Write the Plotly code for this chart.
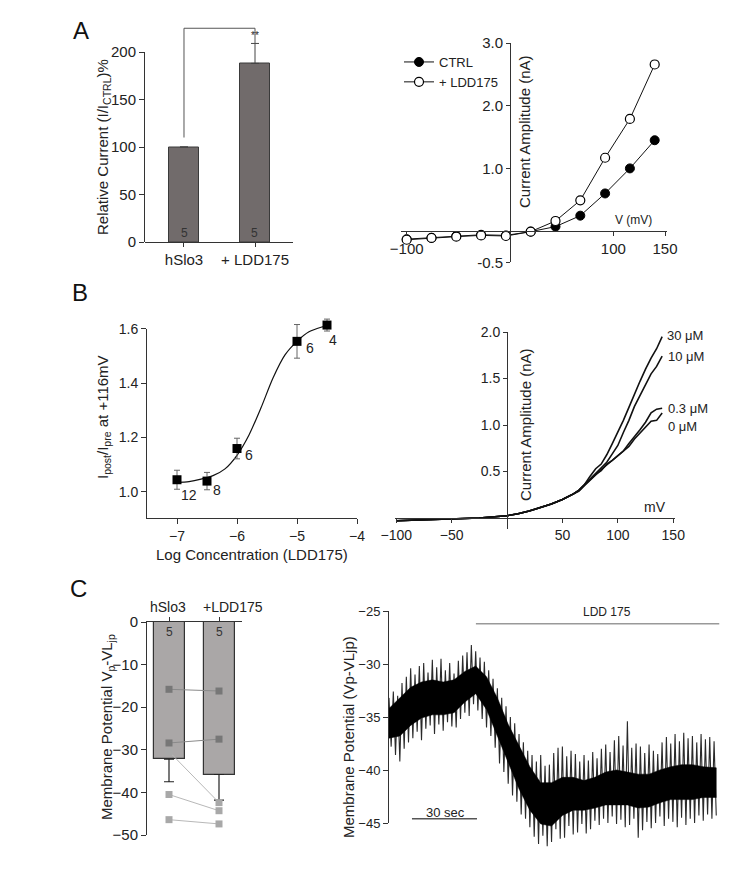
import plotly.graph_objects as go

W, H = 748, 874
FONT = "Liberation Sans, Arial, sans-serif"

# ---------------- Panel A (left): relative current bars ----------------
a_groups = ["hSlo3", "+ LDD175"]
a_rel_current = [100, 188]
a_rel_err = [None, 21]
a_n = ["5", "5"]

# ---------------- Panel A (right): I-V curves ----------------
iv_voltage = [-100, -76, -52, -28, -4, 20, 44, 68, 92, 116, 140]
iv_ctrl = [-0.13, -0.11, -0.08, -0.06, -0.07, -0.01, 0.07, 0.245, 0.60, 1.00, 1.45]
iv_ldd = [-0.14, -0.11, -0.09, -0.07, -0.08, -0.01, 0.16, 0.49, 1.17, 1.79, 2.66]

# ---------------- Panel B (left): dose response ----------------
dr_logc = [-7, -6.5, -6, -5, -4.5]
dr_ratio = [1.045, 1.04, 1.16, 1.555, 1.615]
dr_err = [0.035, 0.032, 0.038, 0.062, 0.022]
dr_n = ["12", "8", "6", "6", "4"]
fit_logc = [-7.0, -6.8, -6.6, -6.4, -6.2, -6.0, -5.8, -5.6, -5.4, -5.2, -5.0, -4.8, -4.6, -4.5]
fit_ratio = [1.035, 1.038, 1.047, 1.06, 1.085, 1.135, 1.21, 1.31, 1.42, 1.505, 1.555, 1.59, 1.607, 1.612]

# ---------------- Panel B (right): ramp currents ----------------
ramp_mv = [-100, -75, -50, -25, 0, 10, 20, 30, 40, 50, 60, 65, 70, 75, 80, 85, 90, 95, 100,
           105, 110, 115, 120, 125, 130, 135, 140]
ramp_0uM = [-0.03, -0.02, -0.01, 0.0, 0.025, 0.045, 0.075, 0.11, 0.15, 0.20, 0.26, 0.29,
            0.35, 0.41, 0.46, 0.52, 0.57, 0.62, 0.66, 0.71, 0.77, 0.85, 0.91, 0.97, 1.04, 1.05, 1.13]
ramp_03uM = [-0.03, -0.02, -0.01, 0.0, 0.025, 0.045, 0.075, 0.11, 0.15, 0.20, 0.26, 0.30,
             0.36, 0.42, 0.47, 0.51, 0.58, 0.62, 0.67, 0.72, 0.80, 0.87, 0.95, 1.03, 1.13, 1.17, 1.18]
ramp_10uM = [-0.03, -0.02, -0.01, 0.0, 0.025, 0.045, 0.075, 0.11, 0.15, 0.20, 0.26, 0.30,
             0.36, 0.43, 0.49, 0.55, 0.60, 0.69, 0.78, 0.92, 1.05, 1.20, 1.32, 1.44, 1.55, 1.63, 1.74]
ramp_30uM = [-0.03, -0.02, -0.01, 0.0, 0.025, 0.045, 0.075, 0.11, 0.15, 0.20, 0.26, 0.30,
             0.36, 0.45, 0.53, 0.58, 0.68, 0.80, 0.92, 1.05, 1.19, 1.34, 1.47, 1.60, 1.72, 1.82, 1.95]
ramp_labels = ["30 \u03bcM", "10 \u03bcM", "0.3 \u03bcM", "0 \u03bcM"]

# ---------------- Panel C (left): membrane potential bars ----------------
c_groups = ["hSlo3", "+LDD175"]
c_mean = [-32.2, -35.8]
c_err = [5.3, 6.0]
c_n = ["5", "5"]
c_cell_ctrl = [-15.8, -28.4, -30.4, -40.5, -46.4]
c_cell_ldd = [-16.2, -27.5, -42.4, -44.3, -47.4]

# ---------------- Panel C (right): membrane potential recording ----------------
# min/max per 2 s bin (spiky extremes)
mp_top = [-33.2, -32.6, -33.0, -31.8, -31.2, -30.4, -31.0, -30.2, -29.9, -30.8,
          -29.6, -30.3, -29.5, -30.6, -29.9, -30.9, -29.7, -29.2, -28.9, -28.2,
          -28.8, -29.4, -29.8, -30.6, -31.4, -32.3, -33.2, -34.0, -35.0, -35.6,
          -36.6, -37.4, -38.2, -38.6, -39.2, -38.6, -39.6, -39.5, -38.4, -37.9,
          -37.8, -38.7, -38.2, -38.5, -39.2, -38.6, -39.1, -38.3, -38.9, -38.0,
          -37.6, -38.3, -37.2, -36.8, -37.7, -35.4, -37.9, -37.5, -37.8, -38.4,
          -37.6, -38.2, -38.5, -37.4, -36.9, -37.5, -36.6, -37.3, -36.5, -37.0,
          -36.8, -37.4, -36.6, -37.1, -36.9, -37.3]
mp_bot = [-37.8, -38.6, -39.2, -38.0, -37.4, -37.0, -36.4, -37.2, -36.1, -35.8,
          -36.6, -35.7, -36.3, -35.5, -35.9, -36.0, -35.2, -34.6, -34.9, -33.8,
          -34.4, -35.2, -36.0, -36.8, -37.9, -39.4, -40.2, -41.3, -42.4, -43.0,
          -44.2, -44.6, -45.4, -46.3, -47.0, -46.2, -47.2, -46.8, -45.6, -46.5,
          -46.4, -45.3, -46.1, -45.9, -45.1, -46.0, -45.6, -44.8, -45.2, -44.6,
          -45.0, -44.4, -45.1, -44.7, -45.4, -45.2, -44.6, -46.4, -45.7, -44.9,
          -45.5, -45.0, -44.4, -45.3, -44.6, -44.9, -45.4, -44.5, -45.2, -44.6,
          -45.0, -44.3, -44.8, -44.2, -44.6, -44.3]
mp_bin_s = 2
# dense core of the trace, per 5 s
core_t = [0, 5, 10, 15, 20, 25, 30, 35, 40, 45, 50, 55, 60, 65, 70, 75, 80, 85, 90, 95,
          100, 105, 110, 115, 120, 125, 130, 135, 140, 145, 151]
core_top = [-34.2, -33.2, -32.2, -31.7, -31.5, -31.7, -31.5, -30.7, -30.2, -31.2, -33.2,
            -35.7, -37.7, -39.7, -41.2, -41.2, -40.7, -40.7, -41.0, -40.7, -40.2, -40.0,
            -40.2, -40.4, -40.4, -40.0, -39.7, -39.5, -39.5, -39.7, -39.8]
core_bot = [-37.0, -36.8, -35.8, -35.1, -34.8, -34.8, -34.6, -33.6, -32.8, -34.3, -36.8,
            -39.3, -41.8, -43.8, -45.1, -45.3, -44.3, -43.8, -43.8, -43.6, -43.3, -43.3,
            -43.3, -43.6, -43.5, -43.1, -42.8, -42.8, -42.8, -42.6, -42.6]
drug_on_s = 40.1
drug_label = "LDD 175"
scalebar_s = 30


def px(x):
    return x / W


def py(y):
    return 1 - y / H


def dx(l, r):
    return [px(l), px(r)]


def dy(top, bottom):
    return [py(bottom), py(top)]


def AX(size=14):
    return dict(showline=True, linecolor="#333", linewidth=1, ticks="outside", ticklen=5,
                tickcolor="#333", tickwidth=1, showgrid=False, zeroline=False, automargin=False,
                tickangle=0, tickfont=dict(size=size, color="#222", family=FONT))


def HID():
    return dict(visible=False, automargin=False, showgrid=False, zeroline=False)


def ann(text, x, y, size=13, angle=0, xanchor="center", yanchor="middle", color="#222"):
    return dict(text=text, x=px(x), y=py(y), xref="paper", yref="paper", showarrow=False,
                font=dict(size=size, color=color, family=FONT), textangle=angle,
                xanchor=xanchor, yanchor=yanchor)


fig = go.Figure()

# ---- A left
fig.add_trace(go.Bar(x=[1, 2], y=a_rel_current, width=0.42, xaxis="x", yaxis="y",
                     marker=dict(color="#716b6b", line=dict(color="#3a3a3a", width=1)),
                     error_y=dict(type="data", array=a_rel_err, arrayminus=[None, 0], symmetric=False,
                                  color="#444", thickness=1, width=4),
                     showlegend=False, hoverinfo="skip"))
bracket_top = 225
fig.add_trace(go.Scatter(x=[1, 1, 2, 2],
                         y=[a_rel_current[0] + 10, bracket_top, bracket_top,
                            a_rel_current[1] + a_rel_err[1]],
                         mode="lines", line=dict(color="#555", width=1), xaxis="x", yaxis="y",
                         showlegend=False, hoverinfo="skip"))
fig.add_trace(go.Scatter(x=[1], y=[0], mode="markers", marker=dict(opacity=0), xaxis="x", yaxis="y2",
                         showlegend=False, hoverinfo="skip"))

# ---- A right
fig.add_trace(go.Scatter(x=iv_voltage, y=iv_ctrl, name="CTRL", mode="lines+markers",
                         line=dict(color="#111", width=1),
                         marker=dict(symbol="circle", size=9, color="#000", line=dict(color="#000", width=1)),
                         xaxis="x3", yaxis="y3"))
fig.add_trace(go.Scatter(x=iv_voltage, y=iv_ldd, name="+ LDD175", mode="lines+markers",
                         line=dict(color="#111", width=1),
                         marker=dict(symbol="circle", size=9, color="#fff", line=dict(color="#000", width=1.2)),
                         xaxis="x3", yaxis="y3"))

# ---- B left
fig.add_trace(go.Scatter(x=fit_logc, y=fit_ratio, mode="lines",
                         line=dict(color="#111", width=1.2, shape="spline", smoothing=0.8),
                         xaxis="x4", yaxis="y4", showlegend=False, hoverinfo="skip"))
fig.add_trace(go.Scatter(x=dr_logc, y=dr_ratio, mode="markers",
                         marker=dict(symbol="square", size=9, color="#000"),
                         error_y=dict(type="data", array=dr_err, color="#666", thickness=1, width=3),
                         xaxis="x4", yaxis="y4", showlegend=False, hoverinfo="skip"))
fig.add_trace(go.Scatter(x=[-7], y=[1.0], mode="markers", marker=dict(opacity=0), xaxis="x4", yaxis="y5",
                         showlegend=False, hoverinfo="skip"))

# ---- B right
for ys in [ramp_0uM, ramp_03uM, ramp_10uM, ramp_30uM]:
    fig.add_trace(go.Scatter(x=ramp_mv, y=ys, mode="lines", line=dict(color="#111", width=1.6),
                             xaxis="x6", yaxis="y6", showlegend=False, hoverinfo="skip"))

# ---- C left
fig.add_trace(go.Bar(x=[1, 2], y=c_mean, width=0.62, xaxis="x7", yaxis="y7",
                     marker=dict(color="#aaa7a7", line=dict(color="#333", width=1.2)),
                     error_y=dict(type="data", array=[0, 0], arrayminus=c_err, symmetric=False,
                                  color="#222", thickness=1.2, width=5),
                     showlegend=False, hoverinfo="skip"))
for i, (a, b) in enumerate(zip(c_cell_ctrl, c_cell_ldd)):
    mcol = "#777" if i < 2 else "#a8a8a8"
    lcol = "#8a8a8a" if i < 2 else "#b8b8b8"
    fig.add_trace(go.Scatter(x=[1, 2], y=[a, b], mode="lines+markers",
                             line=dict(color=lcol, width=1),
                             marker=dict(symbol="square", size=7, color=mcol),
                             xaxis="x7", yaxis="y7", showlegend=False, hoverinfo="skip"))

# ---- C right
mp_t = [mp_bin_s * i for i in range(len(mp_top))]
zx, zy = [], []
for t, a, b in zip(mp_t, mp_top, mp_bot):
    zx += [t, t + mp_bin_s / 2]
    zy += [a, b]
fig.add_trace(go.Scatter(x=zx, y=zy, mode="lines", line=dict(color="#2a2a2a", width=1.1),
                         xaxis="x8", yaxis="y8", showlegend=False, hoverinfo="skip"))
fig.add_trace(go.Scatter(x=core_t + core_t[::-1], y=core_top + core_bot[::-1], mode="lines",
                         fill="toself", fillcolor="#000", line=dict(color="#000", width=0.5),
                         xaxis="x8", yaxis="y8", showlegend=False, hoverinfo="skip"))
fig.add_trace(go.Scatter(x=[drug_on_s, mp_t[-1] + 2.5], y=[-26.2, -26.2], mode="lines",
                         line=dict(color="#999", width=1.5), xaxis="x8", yaxis="y8",
                         showlegend=False, hoverinfo="skip"))
fig.add_trace(go.Scatter(x=[10.6, 10.6 + scalebar_s], y=[-44.6, -44.6], mode="lines",
                         line=dict(color="#555", width=1.5), xaxis="x8", yaxis="y8",
                         showlegend=False, hoverinfo="skip"))
fig.add_trace(go.Scatter(x=[0], y=[-30], mode="markers", marker=dict(opacity=0), xaxis="x8", yaxis="y9",
                         showlegend=False, hoverinfo="skip"))

layout = dict(
    template="none",
    width=W, height=H, autosize=False, margin=dict(l=0, r=0, t=0, b=0, pad=0, autoexpand=False),
    paper_bgcolor="white", plot_bgcolor="rgba(0,0,0,0)",
    font=dict(family=FONT, color="#222"),
    bargap=0,
    legend=dict(x=px(399), y=py(47), xanchor="left", yanchor="top", bgcolor="rgba(0,0,0,0)",
                borderwidth=0, font=dict(size=13, family=FONT, color="#222"), tracegroupgap=0,
                itemwidth=30),
)

# A left
layout["xaxis"] = dict(AX(15), domain=dx(145, 293), range=[0.451, 2.535], anchor="y",
                       tickvals=[1, 2], ticktext=a_groups, ticklen=4)
layout["yaxis"] = dict(HID(), domain=dy(23.5, 242), range=[0, 230])
layout["yaxis2"] = dict(AX(15), domain=dy(52, 242), range=[0, 200], anchor="x",
                        tickvals=[0, 50, 100, 150, 200])
# A right
layout["xaxis3"] = dict(AX(15), domain=dx(401, 667), range=[-105.5, 151.9], anchor="free", position=py(231),
                        tickvals=[-100, 100, 150], ticklen=4)
layout["yaxis3"] = dict(AX(15), domain=dy(43.2, 262.3), range=[-0.5, 3.0], anchor="free", position=px(510),
                        tickvals=[-0.5, 1, 2, 3], ticktext=["-0.5", "1.0", "2.0", "3.0"], ticklen=4)
# B left
layout["xaxis4"] = dict(AX(14), domain=dx(147, 357), range=[-7.5, -4.0], anchor="y5",
                        tickvals=[-7, -6, -5, -4])
layout["yaxis4"] = dict(HID(), domain=dy(302, 518), range=[0.904, 1.70])
layout["yaxis5"] = dict(AX(14), domain=dy(328.7, 518), range=[0.904, 1.6], anchor="x4",
                        tickvals=[1.0, 1.2, 1.4, 1.6], ticktext=["1.0", "1.2", "1.4", "1.6"])
# B right
layout["xaxis6"] = dict(AX(14), domain=dx(395, 675), range=[-101.1, 151.6], anchor="free", position=py(518),
                        tickvals=[-100, -50, 50, 100, 150], ticklen=4)
layout["yaxis6"] = dict(AX(14), domain=dy(332, 529), range=[-0.118, 2.0], anchor="free", position=px(507),
                        tickvals=[0.5, 1.0, 1.5, 2.0], ticktext=["0.5", "1.0", "1.5", "2.0"], ticklen=4)
# C left (category labels drawn as annotations, offset like the original)
layout["xaxis7"] = dict(AX(14), domain=dx(147, 242), range=[0.56, 2.46], anchor="y7", side="top",
                        tickvals=[1, 2], showticklabels=False, ticklen=4)
layout["yaxis7"] = dict(AX(15), domain=dy(622, 835), range=[-50, 0], anchor="x7",
                        tickvals=[-50, -40, -30, -20, -10, 0])
# C right
layout["xaxis8"] = dict(HID(), domain=dx(389, 719.5), range=[0, 152.5], anchor="y8")
layout["yaxis8"] = dict(HID(), domain=dy(611, 860), range=[-48.5, -25], anchor="x8")
layout["yaxis9"] = dict(AX(13), domain=dy(611, 823), range=[-45, -25], anchor="x8",
                        tickvals=[-45, -40, -35, -30, -25])

annotations = [
    ann("A", 81, 30, size=24, color="#111"),
    ann("B", 80, 292, size=24, color="#111"),
    ann("C", 78, 588, size=24, color="#111"),
    # A left
    ann("Relative Current (I/I<sub>CTRL</sub>)%", 103, 147, size=15, angle=-90),
    ann("**", 255, 36, size=10),
    ann(a_n[0], 184, 233, size=12, color="#333"),
    ann(a_n[1], 255, 233, size=12, color="#333"),
    # A right
    ann("Current Amplitude (nA)", 525, 132, size=15, angle=-90),
    ann("V (mV)", 633, 220, size=12),
    # B left
    ann("I<sub>post</sub>/I<sub>pre</sub> at +116mV", 103, 417, size=15, angle=-90),
    ann("Log Concentration (LDD175)", 252, 554, size=15),
    ann(dr_n[0], 189, 495, size=14),
    ann(dr_n[1], 217, 490, size=14),
    ann(dr_n[2], 249, 455, size=14),
    ann(dr_n[3], 310, 348, size=14),
    ann(dr_n[4], 333, 340, size=14),
    # B right
    ann("Current Amplitude (nA)", 525, 425, size=15, angle=-90),
    ann("mV", 655, 507, size=14),
    ann(ramp_labels[0], 665, 335, size=13, xanchor="left"),
    ann(ramp_labels[1], 666, 356, size=13, xanchor="left"),
    ann(ramp_labels[2], 666, 408, size=13, xanchor="left"),
    ann(ramp_labels[3], 666, 426, size=13, xanchor="left"),
    # C left
    ann(c_groups[0], 168, 607, size=14),
    ann(c_groups[1], 233, 607, size=14),
    ann("Membrane Potential V<sub>p</sub>-VL<sub>jp</sub>", 107, 727, size=15, angle=-90),
    ann(c_n[0], 169, 632, size=12, color="#333"),
    ann(c_n[1], 219, 632, size=12, color="#333"),
    # C right
    ann("Membrane Potential (Vp-VLjp)", 348, 737, size=15, angle=-90),
    ann("30 sec", 445, 812, size=13),
    ann(drug_label, 607, 612, size=12),
]
layout["annotations"] = annotations
fig.update_layout(**layout)

fig.write_html("out.html", config={"displayModeBar": False},
               post_script="document.body.style.margin='0';document.body.style.overflow='hidden';")
